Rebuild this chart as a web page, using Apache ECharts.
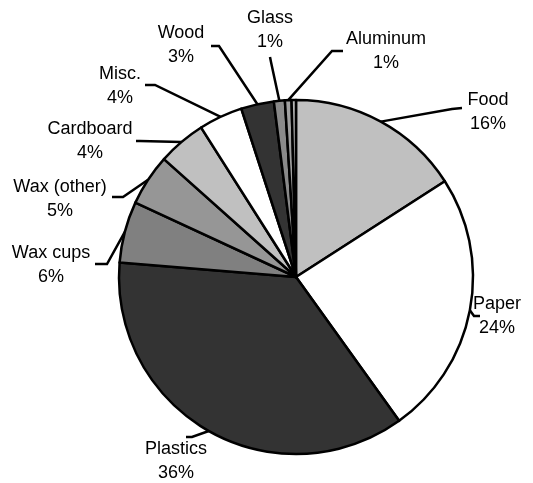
<!DOCTYPE html>
<html>
<head>
<meta charset="utf-8">
<script src="https://cdn.jsdelivr.net/npm/echarts@6/dist/echarts.min.js"></script>
<style>
html,body{margin:0;padding:0;background:#fff;}
#chart{width:533px;height:483px;}
</style>
</head>
<body>
<div id="chart"></div>
<script>
// Data
const categories = ['Food', 'Paper', 'Plastics', 'Wax cups', 'Wax (other)', 'Cardboard', 'Misc.', 'Wood', 'Glass', 'Aluminum', ''];
const shares = [15.9, 24.2, 36.2, 5.6, 4.7, 4.4, 4.0, 3.0, 1.0, 0.6, 0.4];

// Styling
const sliceColors = ['#c0c0c0', '#ffffff', '#333333', '#808080', '#969696', '#c0c0c0', '#ffffff', '#333333', '#8a8a8a', '#a0a0a0', '#b4b4b4'];
// label centre, leader bend, leader end (styling only)
const labelPlacement = [
  {c: [488, 112], b: [452, 109], e: [462, 108]},
  {c: [497, 316], b: [474, 316], e: [480, 316]},
  {c: [176, 461], b: [192, 437], e: [186, 437]},
  {c: [51, 265],  b: [107, 264], e: [95, 264]},
  {c: [60, 199],  b: [123, 197], e: [112, 197]},
  {c: [90, 141],  b: [140, 141], e: [136, 141]},
  {c: [120, 86],  b: [155, 85],  e: [145, 85]},
  {c: [181, 45],  b: [219, 46],  e: [211, 46]},
  {c: [270, 30],  b: [271, 62],  e: [270, 57]},
  {c: [386, 51],  b: [332, 51],  e: [343, 51]},
  null
];

const chart = echarts.init(document.getElementById('chart'), null, {renderer: 'canvas'});
const data = categories.map((name, i) => {
  const item = {
    name: name,
    value: shares[i],
    itemStyle: {color: sliceColors[i]}
  };
  if (!labelPlacement[i]) {
    item.label = {show: false};
    item.labelLine = {show: false};
  }
  return item;
});

chart.setOption({
  animation: false,
  backgroundColor: '#ffffff',
  series: [{
    type: 'pie',
    center: [296, 277],
    radius: [0, 177],
    startAngle: 90,
    clockwise: true,
    avoidLabelOverlap: false,
    data: data,
    itemStyle: {borderColor: '#000000', borderWidth: 2.5},
    emphasis: {disabled: true},
    label: {
      show: true,
      position: 'outside',
      fontFamily: 'Liberation Sans, Arial, sans-serif',
      fontSize: 18,
      lineHeight: 24,
      color: '#000000',
      formatter: p => p.name + '\n' + Math.round(p.percent) + '%'
    },
    labelLine: {
      show: true,
      length: 20,
      length2: 10,
      lineStyle: {color: '#000000', width: 2.5}
    },
    labelLayout: function (params) {
      const lp = labelPlacement[params.dataIndex];
      if (!lp) return {};
      const start = params.labelLinePoints ? params.labelLinePoints[0] : lp.b;
      return {
        x: lp.c[0],
        y: lp.c[1],
        align: 'center',
        verticalAlign: 'middle',
        labelLinePoints: [start, lp.b, lp.e]
      };
    }
  }]
});
</script>
</body>
</html>
